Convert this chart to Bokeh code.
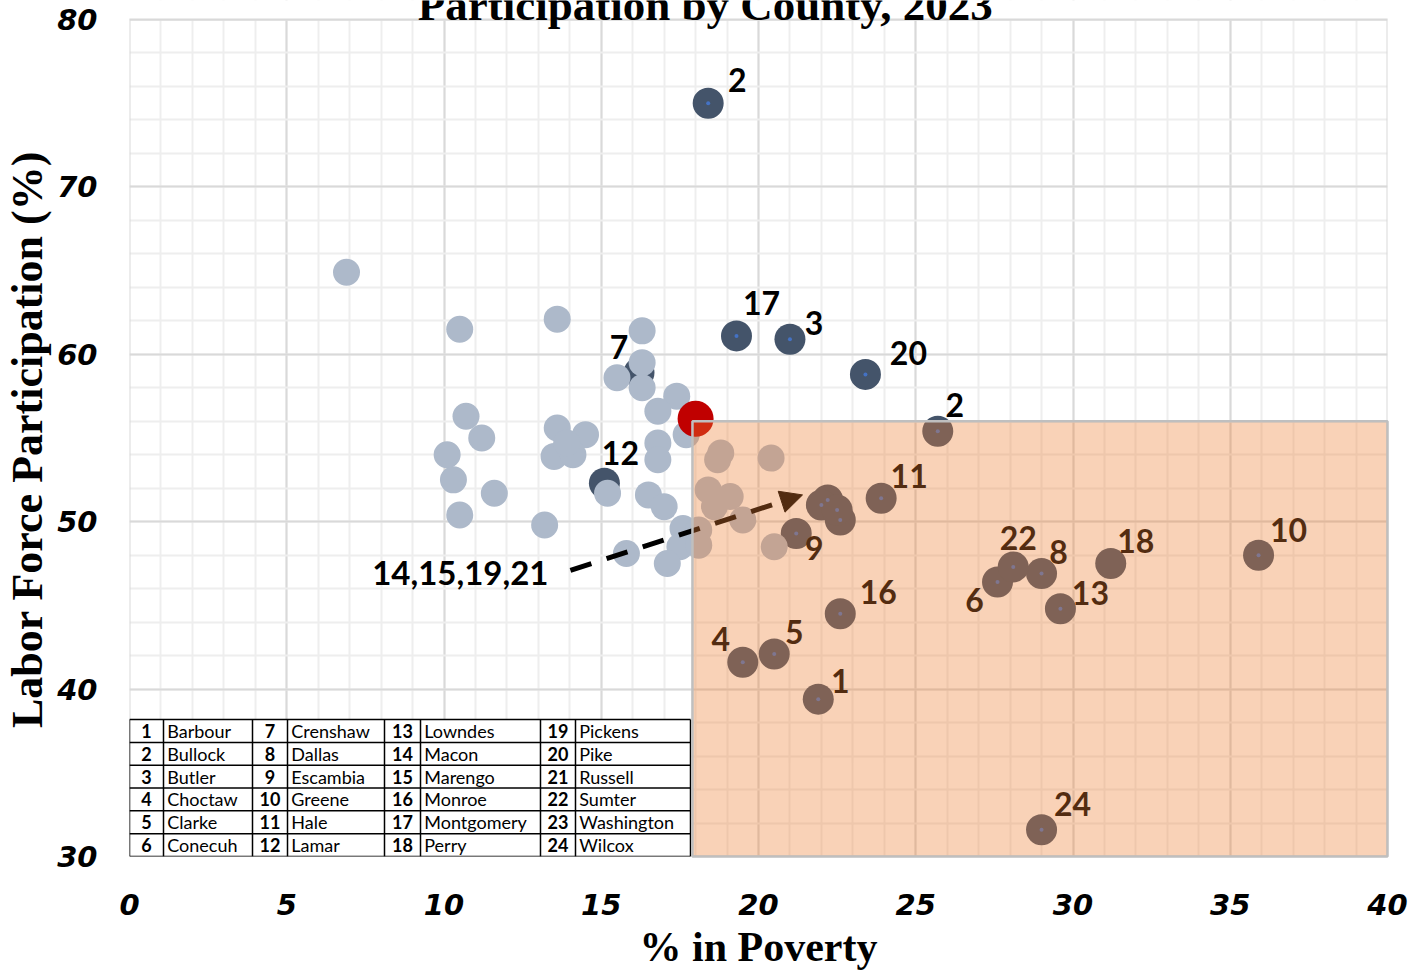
from bokeh.plotting import figure
from bokeh.models import (ColumnDataSource, Range1d, SingleIntervalTicker, Label,
                          Arrow, NormalHead)
from bokeh.core.properties import value
from bokeh.embed import file_html
from bokeh.resources import INLINE

# ---------------- data ----------------
# other Alabama counties (% in poverty, labor force participation %)
light_poverty = [6.9, 10.5, 13.6, 16.3, 16.3, 15.5, 16.3, 17.4, 16.8, 10.7,
                 11.2, 10.1, 10.3, 11.6, 10.5, 13.2, 13.6, 14.5, 13.5, 14.1,
                 13.9, 15.2, 16.8, 16.8, 17.7, 16.5, 17.0, 17.6, 17.5, 17.1,
                 15.8, 18.8, 18.7, 20.4, 18.4, 19.1, 18.6, 19.5, 18.1, 18.1,
                 20.5]
light_lfp = [64.9, 61.5, 62.1, 61.4, 59.5, 58.6, 58.0, 57.5, 56.6, 56.3,
             55.0, 54.0, 52.5, 51.7, 50.4, 49.8, 55.6, 55.2, 53.9, 54.0,
             54.7, 51.7, 54.7, 53.7, 55.2, 51.6, 50.9, 49.6, 48.5, 47.5,
             48.1, 54.1, 53.7, 53.8, 51.9, 51.5, 50.9, 50.1, 49.5, 48.6,
             48.5]

# Black Belt counties 1..24
bb_poverty = [21.9, 18.4, 21.0, 19.5, 20.5, 27.6, 16.2, 29.0, 21.2, 35.9,
              23.9, 15.1, 29.6, 22.2, 22.6, 22.6, 19.3, 31.2, 22.0, 23.4,
              22.5, 28.1, 25.7, 29.0]
bb_lfp = [39.4, 75.0, 60.9, 41.6, 42.1, 46.4, 58.9, 46.9, 49.3, 48.0,
          51.4, 52.3, 44.8, 51.3, 50.1, 44.5, 61.1, 47.5, 51.0, 58.8,
          50.7, 47.3, 55.4, 31.6]
bb_labels = ["1", "2", "3", "4", "5", "6", "7", "8", "9", "10",
             "11", "12", "13", "", "", "16", "17", "18", "", "20",
             "", "22", "2", "24"]
cluster_label = "14,15,19,21"

# Alabama state value
state_poverty = [18.0]
state_lfp = [56.15]
threshold_poverty = 17.9
threshold_lfp = 56.0

table_names = ["Barbour", "Bullock", "Butler", "Choctaw", "Clarke", "Conecuh",
               "Crenshaw", "Dallas", "Escambia", "Greene", "Hale", "Lamar",
               "Lowndes", "Macon", "Marengo", "Monroe", "Montgomery", "Perry",
               "Pickens", "Pike", "Russell", "Sumter", "Washington", "Wilcox"]

title_text = "Participation by County, 2023"
x_title = "% in Poverty"
y_title = "Labor Force Participation (%)"

X_MIN, X_MAX = 0, 40
Y_MIN, Y_MAX = 30, 80

# ---------------- layout / style ----------------
label_dx = [22, 29, 24, -22, 20, -23, -20, 17, 18, 30, 28, 16, 30, 0, 0, 38, 25, 25, 0, 43, 0, 5, 17, 31]
label_dy = [-18, -23, -16, -23, -22, 18, -26, -22, 15, -25, -22, -30, -16, 0, 0, -22, -33, -23, 0, -21, 0, -29, -26, -26]

LIGHT = "#adb9ca"
DARK = "#44546a"
RED = "#c00000"
OVER = "#ed7d31"

W, H = 1420, 972
FRAME_L, FRAME_W, FRAME_H = 129, 1258, 856   # frame spans canvas top to y=30
PX_PER_Y = 837 / (Y_MAX - Y_MIN)
Y_TOP = Y_MAX + 19 / PX_PER_Y                 # room for clipped title inside frame

p = figure(width=W, height=H, x_range=Range1d(X_MIN, X_MAX), y_range=Range1d(Y_MIN, Y_TOP),
           output_backend="svg", toolbar_location=None, title=None,
           min_border_left=FRAME_L, min_border_right=W - FRAME_L - FRAME_W,
           min_border_top=0, min_border_bottom=H - FRAME_H)
p.background_fill_color = "white"
p.border_fill_color = "white"
p.outline_line_color = None

xt = SingleIntervalTicker(interval=5, num_minor_ticks=5)
yt = SingleIntervalTicker(interval=10, num_minor_ticks=5)
p.xaxis.ticker = xt
p.xgrid.ticker = xt
p.yaxis.ticker = yt
p.ygrid.ticker = yt
for g in (p.xgrid, p.ygrid):
    g.grid_line_color = "#d9d9d9"
    g.grid_line_width = 2
    g.minor_grid_line_color = "#eeeeee"
    g.minor_grid_line_width = 2
for ax in (p.xaxis, p.yaxis):
    ax.axis_line_color = None
    ax.major_tick_line_color = None
    ax.minor_tick_line_color = None
    ax.major_label_text_font = "DejaVu Sans"
    ax.major_label_text_font_style = "bold italic"
    ax.major_label_text_font_size = "29px"
    ax.major_label_text_color = "black"
    ax.axis_label_text_font = "Liberation Serif"
    ax.axis_label_text_font_style = "bold"
    ax.axis_label_text_color = "black"
p.xaxis.axis_label_text_font_size = "42px"
p.yaxis.axis_label_text_font_size = "44px"
p.xaxis.major_label_standoff = 31
p.yaxis.major_label_standoff = 26
p.xaxis.axis_label = x_title
# trailing no-break spaces nudge the centred vertical title toward the plot's middle
p.yaxis.axis_label = y_title + "\u00a0\u00a0"
p.xaxis.axis_label_standoff = 6
p.yaxis.axis_label_standoff = 2

# white band above the plot area (title zone) and the plot border
p.quad(left=[X_MIN], right=[X_MAX], bottom=[Y_MAX], top=[Y_TOP], fill_color="white", line_color=None)
p.quad(left=[X_MIN], right=[X_MAX], bottom=[Y_MIN], top=[Y_MAX], fill_color=None,
       line_color="#d9d9d9", line_width=2)

# ---- table (lower left) ----
col_edges = [0, 1.081, 3.911, 5.024, 8.108, 9.253, 13.068, 14.181, 17.838]
tab_top, tab_bot = 38.18, 30.0
nrows = 6
rh = (tab_top - tab_bot) / nrows
p.quad(left=[col_edges[0]], right=[col_edges[-1]], bottom=[tab_bot], top=[tab_top],
       fill_color="white", line_color=None)
hx0, hx1, hy = [], [], []
for r in range(nrows + 1):
    hx0.append(col_edges[0]); hx1.append(col_edges[-1]); hy.append(tab_bot + r * rh)
p.segment(x0=hx0, y0=hy, x1=hx1, y1=hy, line_color="black", line_width=1.5)
p.segment(x0=col_edges, y0=[tab_bot] * len(col_edges), x1=col_edges, y1=[tab_top] * len(col_edges),
          line_color="black", line_width=1.5)
num_x, num_y, num_t, nm_x, nm_y, nm_t = [], [], [], [], [], []
for i, name in enumerate(table_names):
    g, r = divmod(i, nrows)
    yc = tab_top - (r + 0.5) * rh
    num_x.append((col_edges[2 * g] + col_edges[2 * g + 1]) / 2)
    num_y.append(yc)
    num_t.append(str(i + 1))
    nm_x.append(col_edges[2 * g + 1] + 0.12)
    nm_y.append(yc)
    nm_t.append(name)
p.text(x=num_x, y=num_y, text=num_t, text_font=value("Lato"), text_font_style="bold",
       text_font_size="18px", text_align="center", text_baseline="middle", text_color="black")
p.text(x=nm_x, y=nm_y, text=nm_t, text_font=value("Lato"),
       text_font_size="18px", text_align="left", text_baseline="middle", text_color="black")

# ---- points ----
bb_src = ColumnDataSource(dict(x=bb_poverty, y=bb_lfp, label=bb_labels, dx=label_dx, dy=label_dy))
p.scatter(x="x", y="y", source=bb_src, size=31, fill_color=DARK, line_color=None)
dot_x = [x for x, l in zip(bb_poverty, bb_labels) if l != "18"]
dot_y = [y for y, l in zip(bb_lfp, bb_labels) if l != "18"]
p.scatter(x=dot_x, y=dot_y, size=4, fill_color="#4472c4", line_color=None)
p.scatter(x=light_poverty, y=light_lfp, size=27, fill_color=LIGHT, line_color=None)
p.scatter(x=state_poverty, y=state_lfp, size=36, fill_color=RED, line_color=None)

p.text(x="x", y="y", text="label", x_offset="dx", y_offset="dy", source=bb_src,
       text_font=value("Lato"), text_font_style="bold", text_font_size="32px",
       text_align="center", text_baseline="middle", text_color="black")

# cluster arrow
ax0, ay0, ax1, ay1 = 14.02, 47.09, 21.4, 51.6
p.text(x=[ax0], y=[ay0], text=[cluster_label], x_offset=[-22], y_offset=[3],
       text_font=value("Lato"), text_font_style="bold", text_font_size="33px",
       text_align="right", text_baseline="middle", text_color="black")
arrow = Arrow(x_start=ax0, y_start=ay0, x_end=ax1, y_end=ay1, line_color="black",
              line_width=5, line_dash="22 16",
              end=NormalHead(size=22, fill_color="black", line_color="black", line_width=1))
arrow.level = "annotation"
p.add_layout(arrow)

# shaded quadrant (drawn on top, translucent)
ov = p.quad(left=[threshold_poverty], right=[X_MAX], bottom=[Y_MIN], top=[threshold_lfp],
            fill_color=OVER, fill_alpha=0.35, line_color="#bfbfbf", line_width=2.5)
ov.level = "overlay"

# ---- title (clipped at the top edge, as in the source image) ----
p.add_layout(Label(x=18.31, y=Y_MAX + 15 / PX_PER_Y, text=title_text, text_font="Liberation Serif",
                   text_font_style="bold", text_font_size="45px", text_align="center",
                   text_baseline="middle", text_color="black"))

open("out.html", "w").write(file_html(p, INLINE))
